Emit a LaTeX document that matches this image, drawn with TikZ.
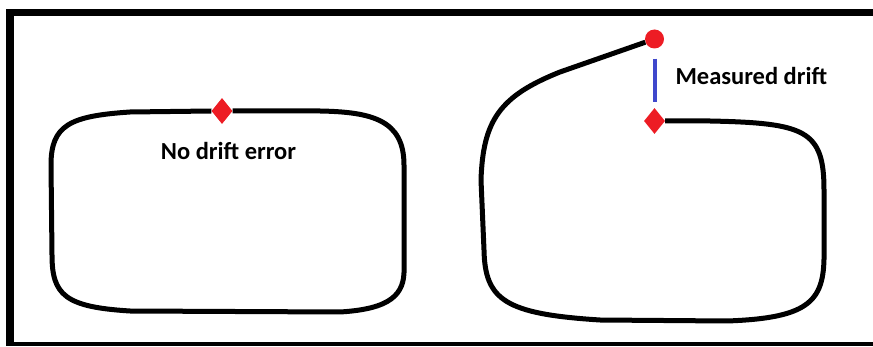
\documentclass[tikz,border=0pt]{standalone}
\usepackage{fontspec}
\setmainfont{Carlito}
\usepackage{xcolor}
\usetikzlibrary{shapes.geometric}
\definecolor{paintred}{HTML}{ED1C24}
\definecolor{paintblue}{HTML}{3F48CC}

\begin{document}
\begin{tikzpicture}[x=1pt,y=-1pt,
		track/.style={line width=5pt, line join=round},
		startmark/.style={diamond, fill=paintred, inner sep=0pt, minimum width=21pt, minimum height=26pt},
		endmark/.style={circle, fill=paintred, inner sep=0pt, minimum size=19pt},
		drift/.style={line width=4pt, draw=paintblue},
		caption/.style={font=\fontsize{24.5}{29}\selectfont\bfseries}]
		% ---- Canvas (pixel units, y pointing down) ----
		\useasboundingbox (0,0) rectangle (873,347);
		
		% ---- Frame (open on the right) ----
		\fill (6,9) rectangle (873,16);     % top
		\fill (6,9) rectangle (14,346);     % left
		\fill (6,342) rectangle (873,346);  % bottom
		
		% ---- Markers ----
		\node[startmark] (startL) at (222,111) {};
		\node[startmark] (startR) at (654.5,121) {};
		\node[endmark] (endR) at (654.5,39) {};
		
		% ---- Left loop: ends where it started ----
		\draw[track] (startL.east) -- (320,111) .. controls (372,112) and (404,120) .. (404,165)
			-- (404,268) .. controls (405,295) and (390,309) .. (340,312)
			-- (130,311) .. controls (65,307) and (52,295) .. (52,255)
			-- (51,165) .. controls (51,125) and (70,116) .. (130,112) -- (startL.west);
		
		% ---- Right loop: end misses the start ----
		\draw[track] (startR.east) -- (710,121) .. controls (805,123) and (824,130) .. (824,190)
			-- (824,250) .. controls (825,300) and (812,318) .. (727,321)
			-- (600,320) .. controls (505,314) and (485,300) .. (484,250)
			-- (481,180) .. controls (483,120) and (500,96) .. (560,72) -- (endR);
		
		% ---- Drift between end and start ----
		\draw[drift, shorten <=10pt, shorten >=6pt] (endR) -- (startR);
		
		% ---- Labels ----
		\node[caption, anchor=base] (nodrift) at (228.5,160) {No drift error};
		\node[caption, anchor=base west] (measured) at (672,85) {Measured drift};
		
	\end{tikzpicture}
\end{document}
